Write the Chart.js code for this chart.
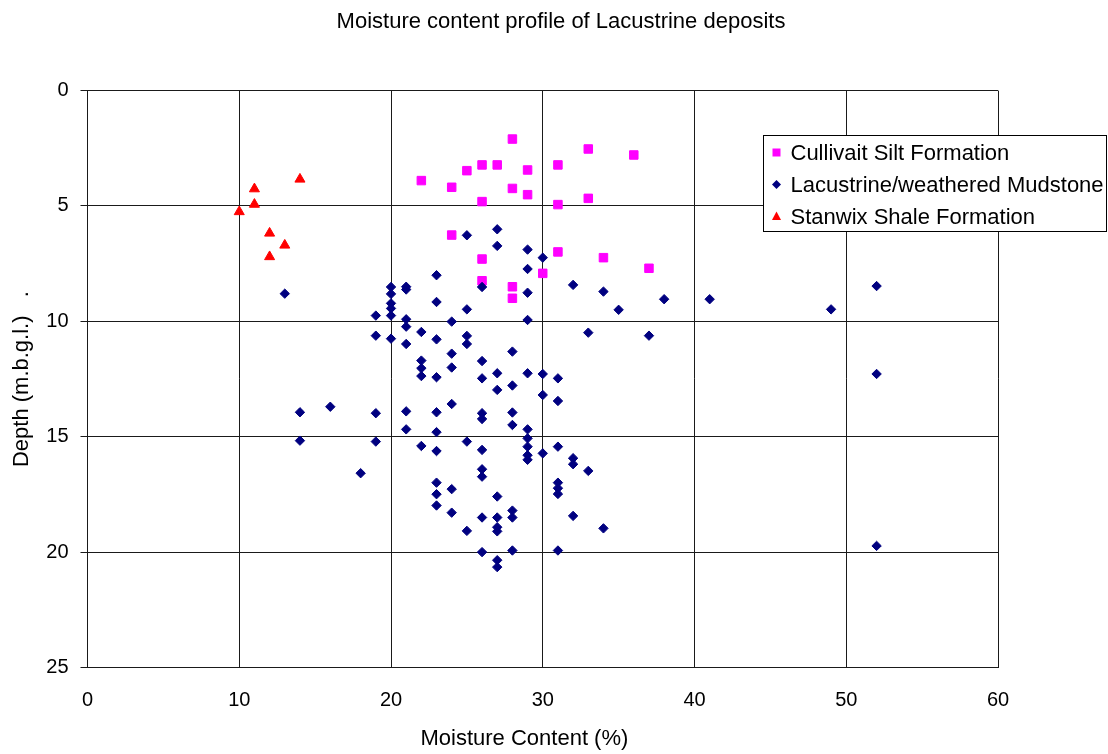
<!DOCTYPE html>
<html>
<head>
<meta charset="utf-8">
<title>Moisture content profile of Lacustrine deposits</title>
<script src="https://cdn.jsdelivr.net/npm/chart.js@4.4.1/dist/chart.umd.min.js"></script>
<style>
  html, body { margin: 0; padding: 0; background: #fff; }
  canvas { display: block; }
</style>
</head>
<body>
<canvas id="myChart" width="1108" height="754"></canvas>
<script>
// moisture content (%) vs depth (m below ground level), per formation
var siltMoisture = [28, 33, 36, 26, 27, 31, 25, 29, 22, 24, 28, 29, 33, 26, 31, 24, 31, 34, 26, 37, 30, 26, 28, 28];
var siltDepth = [2.1, 2.53, 2.79, 3.22, 3.22, 3.22, 3.47, 3.44, 3.9, 4.19, 4.24, 4.51, 4.67, 4.81, 4.94, 6.26, 6.99, 7.24, 7.3, 7.7, 7.92, 8.24, 8.5, 9.0];

var mudMoisture = [
    13, 14, 14, 16, 18,
    19, 19, 19, 19,
    20, 20, 20, 20, 20, 20,
    21, 21, 21, 21, 21, 21, 21,
    22, 22, 22, 22, 22,
    23, 23, 23, 23, 23, 23, 23, 23, 23, 23,
    24, 24, 24, 24, 24, 24,
    25, 25, 25, 25, 25, 25,
    26, 26, 26, 26, 26, 26, 26, 26, 26, 26,
    27, 27, 27, 27, 27, 27, 27, 27, 27, 27,
    28, 28, 28, 28, 28, 28, 28,
    29, 29, 29, 29, 29, 29, 29, 29, 29, 29,
    30, 30, 30, 30,
    31, 31, 31, 31, 31, 31, 31,
    32, 32, 32, 32,
    33, 33, 34, 34, 35, 37, 38, 41, 49,
    52, 52, 52
];
var mudDepth = [
    8.8, 13.94, 15.17, 13.7, 16.58,
    9.75, 10.62, 13.98, 15.21,
    8.51, 8.81, 9.22, 9.44, 9.75, 10.75,
    8.5, 8.62, 9.91, 10.23, 10.98, 13.9, 14.68,
    10.46, 11.7, 12.03, 12.37, 15.4,
    8.0, 9.16, 10.78, 12.42, 13.94, 14.8, 15.62, 16.99, 17.49, 17.98,
    10.01, 11.4, 12.0, 13.58, 17.27, 18.29,
    6.27, 9.48, 10.63, 10.98, 15.21, 19.08,
    8.51, 11.72, 12.47, 13.98, 14.23, 15.57, 16.41, 16.73, 18.5, 20.0,
    6.01, 6.73, 12.25, 12.97, 17.59, 18.5, 18.92, 19.1, 20.35, 20.65,
    11.31, 12.78, 13.95, 14.49, 18.2, 18.5, 19.93,
    6.89, 7.73, 8.76, 9.94, 12.25, 14.68, 15.07, 15.43, 15.8, 16.0,
    7.24, 12.28, 13.19, 15.72,
    12.47, 13.45, 15.43, 16.99, 17.23, 17.48, 19.93,
    8.42, 15.93, 16.19, 18.43,
    10.49, 16.48, 8.71, 18.97, 9.5, 10.62, 9.04, 9.04, 9.48,
    8.47, 12.28, 19.73
];

var shaleMoisture = [14, 11, 11, 10, 12, 13, 12];
var shaleDepth = [3.84, 4.26, 4.93, 5.25, 6.18, 6.7, 7.2];

var xTicks = [0, 10, 20, 30, 40, 50, 60];
var yTicks = [0, 5, 10, 15, 20, 25];

var seriesNames = ['Cullivait Silt Formation', 'Lacustrine/weathered Mudstone', 'Stanwix Shale Formation'];
var seriesColors = ['#FF00FF', '#000080', '#FF0000'];
var seriesMarkers = ['rect', 'rectRot', 'triangle'];

var toPoints = function (xs, ys) {
    var pts = [];
    for (var i = 0; i < xs.length; i++) {
        pts.push({x: xs[i], y: ys[i]});
    }
    return pts;
};

var fontFamily = "'Liberation Sans', Arial, sans-serif";
Chart.defaults.font.family = fontFamily;
Chart.defaults.color = '#000';

// legend box sitting inside the plot area, top right
var boxLegend = {
    id: 'boxLegend',
    afterDraw: function (chart) {
        var ctx = chart.ctx;
        var left = 763.5, top = 135.5, width = 343, height = 96;
        ctx.save();
        ctx.fillStyle = '#fff';
        ctx.strokeStyle = '#000';
        ctx.lineWidth = 1;
        ctx.fillRect(left, top, width, height);
        ctx.strokeRect(left, top, width, height);
        ctx.font = '22px ' + fontFamily;
        ctx.textBaseline = 'middle';
        ctx.textAlign = 'left';
        for (var i = 0; i < seriesNames.length; i++) {
            var cy = top + 17 + i * 32;
            var cx = left + 13;
            ctx.fillStyle = seriesColors[i];
            ctx.beginPath();
            if (seriesMarkers[i] === 'rect') {
                ctx.rect(cx - 4, cy - 4, 8, 8);
            } else if (seriesMarkers[i] === 'rectRot') {
                ctx.moveTo(cx - 4.5, cy);
                ctx.lineTo(cx, cy - 4.5);
                ctx.lineTo(cx + 4.5, cy);
                ctx.lineTo(cx, cy + 4.5);
            } else {
                ctx.moveTo(cx, cy - 5);
                ctx.lineTo(cx + 4.5, cy + 3.5);
                ctx.lineTo(cx - 4.5, cy + 3.5);
            }
            ctx.closePath();
            ctx.fill();
            ctx.fillStyle = '#000';
            ctx.fillText(seriesNames[i], left + 27, cy + 1);
        }
        ctx.restore();
    }
};

var ctx = document.getElementById('myChart');
var myChart = new Chart(ctx, {
    type: 'scatter',
    plugins: [boxLegend],
    data: {
        datasets: [{
            label: seriesNames[0],
            data: toPoints(siltMoisture, siltDepth),
            yAxisID: 'y',
            order: 3,
            pointStyle: seriesMarkers[0],
            pointRadius: 6,
            borderWidth: 1,
            backgroundColor: seriesColors[0],
            borderColor: seriesColors[0]
        }, {
            label: seriesNames[1],
            data: toPoints(mudMoisture, mudDepth),
            yAxisID: 'y',
            order: 2,
            pointStyle: seriesMarkers[1],
            pointRadius: 4.7,
            borderWidth: 1,
            backgroundColor: seriesColors[1],
            borderColor: seriesColors[1]
        }, {
            label: seriesNames[2],
            data: toPoints(shaleMoisture, shaleDepth),
            yAxisID: 'y',
            order: 1,
            pointStyle: seriesMarkers[2],
            pointRadius: 5.8,
            borderWidth: 1,
            backgroundColor: seriesColors[2],
            borderColor: seriesColors[2]
        }]
    },
    options: {
        responsive: false,
        animation: false,
        layout: {
            padding: {left: 14, right: 0, top: 0, bottom: 0}
        },
        plugins: {
            legend: {display: false},
            tooltip: {enabled: false},
            title: {
                display: true,
                text: 'Moisture content profile of Lacustrine deposits',
                color: '#000',
                font: {size: 22, weight: 'normal', lineHeight: 1.2},
                padding: {top: 9, bottom: 55.2}
            }
        },
        scales: {
            x: {
                type: 'linear',
                min: xTicks[0],
                max: xTicks[xTicks.length - 1],
                afterBuildTicks: function (scale) {
                    scale.ticks = xTicks.map(function (v) { return {value: v}; });
                },
                afterFit: function (scale) {
                    scale.height = 86.5;
                },
                grid: {color: '#1a1a1a', lineWidth: 1, drawTicks: false},
                border: {color: '#1a1a1a', width: 1},
                ticks: {font: {size: 20}, color: '#000', padding: 21, maxRotation: 0},
                title: {
                    display: true,
                    text: 'Moisture Content (%)      ',
                    color: '#000',
                    font: {size: 22, lineHeight: 1.2},
                    padding: {top: 0, bottom: 1.5}
                }
            },
            y: {
                type: 'linear',
                position: 'left',
                reverse: true,
                min: yTicks[0],
                max: yTicks[yTicks.length - 1],
                afterBuildTicks: function (scale) {
                    scale.ticks = yTicks.map(function (v) { return {value: v}; });
                },
                afterFit: function (scale) {
                    scale.width = 73.5;
                },
                grid: {color: '#1a1a1a', lineWidth: 1, drawTicks: true, tickLength: 7},
                border: {color: '#1a1a1a', width: 1},
                ticks: {font: {size: 20}, color: '#000', padding: 12},
                title: {
                    display: true,
                    text: 'Depth (m.b.g.l.)   .',
                    color: '#000',
                    font: {size: 22, lineHeight: 0.7},
                    padding: {top: 0.5, bottom: 0}
                }
            },
            // empty spacer on the right so the legend box has room
            yRight: {
                type: 'linear',
                position: 'right',
                min: 0,
                max: 25,
                afterFit: function (scale) {
                    scale.width = 110;
                },
                grid: {display: false, drawTicks: false},
                border: {display: false},
                ticks: {display: false}
            }
        }
    }
});
</script>
</body>
</html>
